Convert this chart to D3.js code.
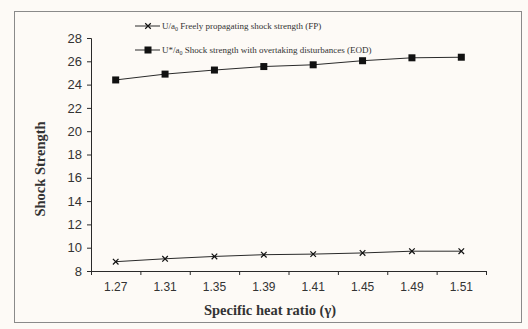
<!DOCTYPE html>
<html>
<head>
<meta charset="utf-8">
<script src="https://cdn.jsdelivr.net/npm/d3@7"></script>
<style>
  body { margin: 0; background: #fdfaf6; }
  svg { display: block; }
</style>
</head>
<body>
<script>
// chart data
const gammas = ['1.27', '1.31', '1.35', '1.39', '1.41', '1.45', '1.49', '1.51']
const fpValues = [8.8, 9.05, 9.25, 9.4, 9.45, 9.55, 9.7, 9.7]
const eodValues = [24.4, 24.9, 25.25, 25.55, 25.7, 26.05, 26.3, 26.35]
const yTicks = [8, 10, 12, 14, 16, 18, 20, 22, 24, 26, 28]

const width = 528, height = 329
const margin = {top: 38, right: 42, bottom: 58, left: 91}
const ink = '#2a2a2a'

const svg = d3.select('body').append('svg')
    .attr('width', width)
    .attr('height', height)

svg.append('rect')
    .attr('width', width).attr('height', height)
    .attr('fill', '#fdfaf6')

// outer frame
svg.append('rect')
    .attr('x', 14.5).attr('y', 11.5)
    .attr('width', 507).attr('height', 311)
    .attr('fill', 'none')
    .attr('stroke', '#8a8a8a')
    .attr('stroke-width', 1)

const xScale = d3.scaleBand()
    .domain(gammas)
    .range([margin.left, width - margin.right])

const xEdges = d3.scaleLinear()
    .domain([0, gammas.length])
    .range([margin.left, width - margin.right])

const yScale = d3.scaleLinear()
    .domain([8, 28])
    .range([height - margin.bottom, margin.top])

const baseY = height - margin.bottom

// x axis: ticks at band edges, labels at centres
const xTickG = svg.append('g')
    .attr('transform', 'translate(0,' + baseY + ')')
    .call(d3.axisBottom(xEdges).ticks(8).tickSize(4).tickFormat(''))
xTickG.select('.domain').attr('stroke', ink)
xTickG.selectAll('line').attr('stroke', ink)

const xLabG = svg.append('g')
    .attr('transform', 'translate(0,' + baseY + ')')
    .call(d3.axisBottom(xScale).tickSize(0).tickPadding(11))
xLabG.select('.domain').remove()
xLabG.selectAll('text')
    .attr('fill', '#333')
    .style('font-family', '"Liberation Sans", Arial, sans-serif')
    .style('font-size', '12px')

// y axis
const yG = svg.append('g')
    .attr('transform', 'translate(' + margin.left + ',0)')
    .call(d3.axisLeft(yScale).tickValues(yTicks).tickSize(4).tickPadding(5))
yG.select('.domain').attr('stroke', ink)
yG.selectAll('line').attr('stroke', ink)
yG.selectAll('text')
    .attr('fill', '#333')
    .style('font-family', '"Liberation Sans", Arial, sans-serif')
    .style('font-size', '13px')

// axis titles
svg.append('text')
    .attr('text-anchor', 'middle')
    .attr('transform', 'translate(45,' + 169 + ')rotate(-90)')
    .attr('fill', '#333')
    .style('font-family', '"Liberation Serif", "Times New Roman", serif')
    .style('font-size', '14.5px')
    .style('font-weight', 'bold')
    .text('Shock Strength')

svg.append('text')
    .attr('text-anchor', 'middle')
    .attr('x', 270).attr('y', 315)
    .attr('fill', '#333')
    .style('font-family', '"Liberation Serif", "Times New Roman", serif')
    .style('font-size', '14.5px')
    .style('font-weight', 'bold')
    .text('Specific heat ratio (\u03b3)')

const cx = (d, i) => xScale(gammas[i]) + xScale.bandwidth() / 2

const line = d3.line()
    .x((d, i) => cx(d, i))
    .y(d => yScale(d))

// EOD series
svg.append('path')
    .datum(eodValues)
    .attr('d', line)
    .attr('fill', 'none')
    .attr('stroke', ink)
    .attr('stroke-width', 1)

svg.selectAll('.sq').data(eodValues)
    .enter()
    .append('rect')
        .attr('class', 'sq')
        .attr('x', (d, i) => cx(d, i) - 3.5)
        .attr('y', d => yScale(d) - 3.5)
        .attr('width', 7).attr('height', 7)
        .attr('fill', '#111')

// FP series
svg.append('path')
    .datum(fpValues)
    .attr('d', line)
    .attr('fill', 'none')
    .attr('stroke', ink)
    .attr('stroke-width', 1)

const cross = d3.symbol().type(d3.symbolX).size(22)
svg.selectAll('.cr').data(fpValues)
    .enter()
    .append('path')
        .attr('class', 'cr')
        .attr('d', cross)
        .attr('transform', (d, i) => 'translate(' + cx(d, i) + ',' + yScale(d) + ')')
        .attr('fill', 'none')
        .attr('stroke', '#111')
        .attr('stroke-width', 1.2)

// legend
const legend = [
    {y: 26, sym: 'x', main: 'U/a', rest: 'Freely propagating shock strength (FP)'},
    {y: 50, sym: 'sq', main: 'U*/a', rest: 'Shock strength with overtaking disturbances (EOD)'}
]

legend.forEach(item => {
    svg.append('line')
        .attr('x1', 135).attr('x2', 160)
        .attr('y1', item.y).attr('y2', item.y)
        .attr('stroke', ink)
    if (item.sym == 'x') {
        svg.append('path')
            .attr('d', cross)
            .attr('transform', 'translate(148,' + item.y + ')')
            .attr('fill', 'none')
            .attr('stroke', '#111')
            .attr('stroke-width', 1.2)
    } else {
        svg.append('rect')
            .attr('x', 144.5).attr('y', item.y - 3.5)
            .attr('width', 7).attr('height', 7)
            .attr('fill', '#111')
    }
    const t = svg.append('text')
        .attr('x', 162).attr('y', item.y + 3)
        .attr('fill', '#333')
        .style('font-family', '"Liberation Serif", "Times New Roman", serif')
        .style('font-size', '9px')
    t.append('tspan').text(item.main)
    t.append('tspan').attr('dy', 2).style('font-size', '6px').text('0')
    t.append('tspan').attr('dy', -2).text(' ' + item.rest)
})
</script>
</body>
</html>
